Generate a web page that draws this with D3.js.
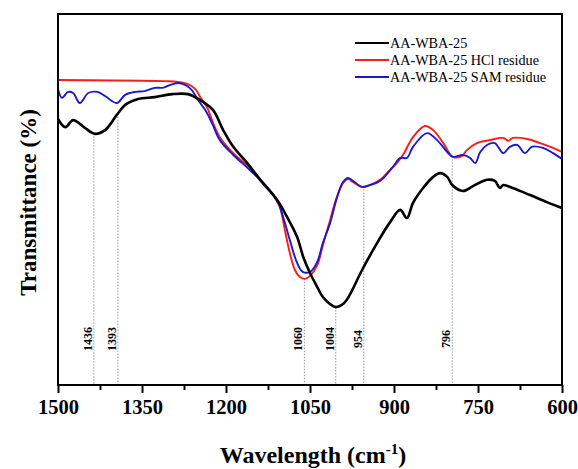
<!DOCTYPE html>
<html>
<head>
<meta charset="utf-8">
<script src="https://cdn.jsdelivr.net/npm/d3@7"></script>
<style>
  body { margin: 0; background: #fff; }
  text { font-family: "Liberation Serif", "Times New Roman", serif; }
</style>
</head>
<body>
<div id="chart"></div>
<script>
// wavenumber (cm-1) and transmittance (arbitrary units, 0-100)
const blackWn = [1500, 1487, 1473, 1452, 1434, 1416, 1395, 1380, 1357, 1327, 1296, 1268, 1246, 1223, 1205, 1187, 1162, 1139, 1109, 1091, 1073, 1062, 1050, 1037, 1027, 1014, 1004, 989, 979, 957, 930, 907, 889, 877, 866, 848, 830, 818, 805, 796, 777, 759, 734, 720, 711, 705, 688, 657, 627, 600];
const blackT  = [71.7, 69.5, 71.4, 69.3, 67.7, 68.7, 72.8, 75.5, 77.1, 77.6, 78.4, 78.4, 76.8, 74.1, 68.7, 64.2, 59.8, 55.3, 49.9, 45.3, 39.9, 34.5, 30.2, 26.4, 23.7, 21.8, 21.0, 22.1, 24.3, 31.0, 38.3, 43.9, 47.2, 45.0, 49.1, 53.1, 56.1, 57.1, 56.1, 53.9, 52.3, 53.6, 55.3, 55.0, 53.1, 53.9, 53.1, 51.2, 49.3, 47.7];

const redWn = [1500, 1309, 1286, 1268, 1255, 1246, 1234, 1223, 1211, 1187, 1157, 1127, 1116, 1104, 1095, 1086, 1077, 1068, 1059, 1050, 1037, 1027, 1014, 1002, 991, 982, 973, 957, 943, 925, 907, 895, 884, 866, 845, 830, 812, 795, 779, 770, 752, 729, 705, 696, 688, 662, 639, 616, 600];
const redT  = [82.2, 81.9, 81.7, 81.1, 79.8, 77.6, 74.9, 70.6, 66.8, 62.5, 58.5, 53.4, 51.2, 48.0, 41.8, 35.6, 31.0, 29.1, 28.6, 29.4, 32.3, 37.7, 44.5, 50.7, 54.4, 55.5, 54.7, 53.4, 53.9, 55.3, 58.0, 59.8, 62.0, 66.8, 69.8, 68.7, 65.2, 61.5, 61.7, 63.3, 65.2, 66.0, 66.6, 65.8, 66.6, 66.3, 65.2, 63.9, 62.8];

const blueWn = [1500, 1493, 1482, 1473, 1461, 1446, 1430, 1416, 1395, 1380, 1362, 1345, 1327, 1314, 1304, 1286, 1273, 1261, 1250, 1237, 1225, 1211, 1187, 1157, 1127, 1109, 1098, 1086, 1073, 1063, 1050, 1037, 1027, 1014, 1002, 991, 982, 973, 957, 943, 925, 902, 889, 877, 866, 841, 823, 805, 795, 777, 764, 755, 746, 734, 720, 705, 693, 680, 666, 654, 634, 616, 600];
const blueT  = [79.8, 77.4, 79.0, 78.7, 76.0, 78.7, 79.0, 77.9, 76.0, 78.2, 79.0, 79.2, 80.1, 80.1, 80.6, 81.4, 80.9, 79.5, 76.8, 74.1, 70.6, 66.0, 62.0, 57.9, 53.4, 49.9, 45.3, 39.1, 32.9, 30.5, 30.5, 33.2, 38.3, 43.7, 50.4, 54.7, 55.8, 55.0, 53.4, 53.9, 55.0, 58.8, 61.2, 61.2, 64.2, 67.9, 66.0, 62.8, 61.5, 62.0, 61.2, 59.8, 62.8, 64.7, 65.2, 62.5, 64.2, 64.7, 62.5, 64.2, 63.9, 62.5, 60.9];

const seriesNames = ["AA-WBA-25", "AA-WBA-25 HCl residue", "AA-WBA-25 SAM residue"];
const seriesColors = ["#000000", "#ff1a1a", "#1a1acc"];

// marked bands and the curve each guide line rises to
const peakWn = [1436, 1393, 1060, 1004, 954, 796];
const peakOn = [0, 0, 1, 0, 2, 2];

const xTicks = [1500, 1350, 1200, 1050, 900, 750, 600];

const margin = { top: 14, right: 16, bottom: 84, left: 58 };
const width = 578 - margin.left - margin.right;
const height = 469 - margin.top - margin.bottom;

const svg = d3.select("#chart")
    .append("svg")
    .attr("width", 578)
    .attr("height", 469)
    .append("g")
    .attr("transform", `translate(${margin.left},${margin.top})`);

const x = d3.scaleLinear().domain([1500, 600]).range([0, width]);
const y = d3.scaleLinear().domain([0, 100]).range([height, 0]);

const series = [
    blackWn.map((w, i) => ({ wn: w, t: blackT[i] })),
    redWn.map((w, i) => ({ wn: w, t: redT[i] })),
    blueWn.map((w, i) => ({ wn: w, t: blueT[i] }))
];

// interpolate a series at a given wavenumber
function valueAt(data, wn) {
    for (let i = 0; i < data.length - 1; i++) {
        const a = data[i], b = data[i + 1];
        if (wn <= a.wn && wn >= b.wn) {
            const f = (a.wn - wn) / (a.wn - b.wn);
            return a.t + f * (b.t - a.t);
        }
    }
    return data[data.length - 1].t;
}

// guide lines
peakWn.forEach((w, i) => {
    const top = valueAt(series[peakOn[i]], w);
    svg.append("line")
        .attr("x1", x(w)).attr("x2", x(w))
        .attr("y1", y(top)).attr("y2", height)
        .attr("stroke", "#9a9a9a")
        .attr("stroke-width", 1)
        .attr("stroke-dasharray", "1.5,1.5");
    svg.append("text")
        .attr("transform", `translate(${x(w) - 2},${height - 46}) rotate(-90)`)
        .attr("text-anchor", "middle")
        .style("font-size", "12px")
        .style("font-weight", "bold")
        .text(w);
});

// curves
const line = d3.line()
    .x(d => x(d.wn))
    .y(d => y(d.t))
    .curve(d3.curveCatmullRom.alpha(0.5));

[1, 2, 0].forEach(k => {
    svg.append("path")
        .datum(series[k])
        .attr("fill", "none")
        .attr("stroke", seriesColors[k])
        .attr("stroke-width", k === 0 ? 2.6 : 1.9)
        .attr("d", line);
});

// frame
svg.append("rect")
    .attr("width", width)
    .attr("height", height)
    .attr("fill", "none")
    .attr("stroke", "#000")
    .attr("stroke-width", 2);

// bottom axis
const xAxis = svg.append("g")
    .attr("transform", `translate(0,${height})`)
    .call(d3.axisBottom(x).tickValues(xTicks).tickSize(8).tickPadding(6).tickFormat(d3.format("d")));
xAxis.select(".domain").remove();
xAxis.selectAll("line").attr("stroke-width", 2);
xAxis.selectAll("text")
    .style("font-family", "'Liberation Serif', serif")
    .style("font-size", "20.5px")
    .style("font-weight", "bold")
    .attr("fill", "#000");

const minor = svg.append("g")
    .attr("transform", `translate(0,${height})`)
    .call(d3.axisBottom(x).tickValues(d3.range(1425, 600, -150)).tickSize(5).tickFormat(""));
minor.select(".domain").remove();
minor.selectAll("line").attr("stroke-width", 2);

// axis titles
const xt = svg.append("text")
    .attr("x", width / 2 + 3)
    .attr("y", height + 78)
    .attr("text-anchor", "middle")
    .style("font-size", "24px")
    .style("font-weight", "bold")
    .text("Wavelength (cm");
xt.append("tspan").attr("dy", -9).style("font-size", "15px").text("-1");
xt.append("tspan").attr("dy", 9).text(")");

svg.append("text")
    .attr("transform", `translate(${-22},${height / 2 + 3}) rotate(-90)`)
    .attr("text-anchor", "middle")
    .style("font-size", "23px")
    .style("font-weight", "bold")
    .text("Transmittance (%)");

// legend
const legend = svg.append("g").attr("transform", `translate(${297},${29})`);
seriesNames.forEach((name, i) => {
    const g = legend.append("g").attr("transform", `translate(0,${i * 17})`);
    g.append("line")
        .attr("x1", 0).attr("x2", 34)
        .attr("stroke", seriesColors[i])
        .attr("stroke-width", 2.2);
    g.append("text")
        .attr("x", 35)
        .attr("y", 4.5)
        .style("font-size", "14.2px")
        .text(name);
});
</script>
</body>
</html>
